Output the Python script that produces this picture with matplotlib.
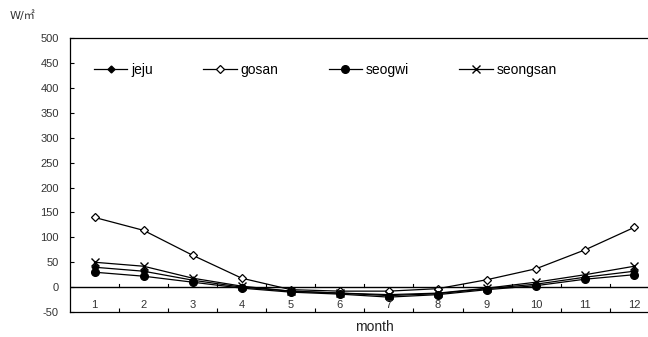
import matplotlib
matplotlib.use('Agg')
import matplotlib.pyplot as plt

months = [1, 2, 3, 4, 5, 6, 7, 8, 9, 10, 11, 12]
monthLabels = ['1', '2', '3', '4', '5', '6', '7', '8', '9', '10', '11', '12']
jeju = [40, 32, 14, 0, -8, -12, -17, -13, -3, 6, 20, 32]
gosan = [140, 114, 64, 18, -5, -8, -8, -3, 15, 37, 75, 120]
seogwi = [30, 22, 10, -2, -10, -14, -20, -15, -5, 3, 16, 25]
seongsan = [50, 42, 18, 2, -8, -12, -15, -12, -2, 10, 25, 42]
yTicks = [-50, 0, 50, 100, 150, 200, 250, 300, 350, 400, 450, 500]

plt.rcParams['font.family'] = ['Liberation Sans', 'DejaVu Sans']

fig = plt.figure(figsize=(6.48, 3.37), dpi=100)
ax = fig.add_axes([0.108, 0.074, 0.892, 0.813])

ax.plot(months, jeju, color='black', lw=0.9, marker='D', markersize=3.5,
        markerfacecolor='black', label='jeju')
ax.plot(months, gosan, color='black', lw=0.9, marker='D', markersize=4.5,
        markerfacecolor='white', markeredgewidth=0.9, label='gosan')
ax.plot(months, seogwi, color='black', lw=0.9, marker='o', markersize=5.5,
        markerfacecolor='black', label='seogwi')
ax.plot(months, seongsan, color='black', lw=0.9, marker='x', markersize=5.5,
        markeredgewidth=1.0, label='seongsan')

ax.axhline(0, color='black', lw=1.0)

ax.set_xlim(0.5, 12.28)
ax.set_ylim(-50, 500)
ax.set_yticks(yTicks)
ax.set_yticklabels([str(v) for v in yTicks], color='#333333', fontsize=8)
ax.set_xticks([m + 0.5 for m in months[:-1]])
ax.set_xticklabels([])
ax.tick_params(axis='both', direction='in', length=3, width=0.8)
ax.tick_params(axis='y', pad=8)

# month numbers sit inside the plot, between zero line and bottom axis
for m, lab in zip(months, monthLabels):
    ax.text(m, -36, lab, ha='center', va='center', fontsize=8, color='#333333')

# small ticks on the zero line at category borders
for m in months[:-1]:
    ax.plot([m + 0.5, m + 0.5], [0, 6], color='black', lw=0.8)

ax.spines['right'].set_visible(False)
for s in ['left', 'top', 'bottom']:
    ax.spines[s].set_linewidth(0.9)

ax.legend(loc='upper left', bbox_to_anchor=(0.02, 0.955), ncol=4, frameon=False,
          fontsize=10, handlelength=2.4, columnspacing=3.6, handletextpad=0.3)

fig.text(0.015, 0.955, 'W/㎡', fontsize=8, color='#333333', va='center',
         family=['DejaVu Sans', 'Noto Sans CJK KR'])
fig.text(0.578, 0.03, 'month', fontsize=10, color='#222222', ha='center', va='center')

fig.savefig('out.png', dpi=100)
